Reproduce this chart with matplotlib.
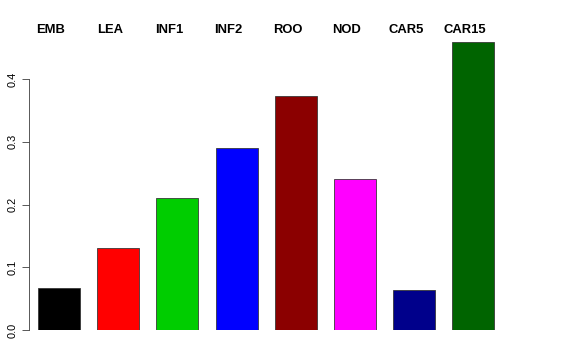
import matplotlib
matplotlib.use('Agg')
import matplotlib.pyplot as plt
import numpy as np

# bar values
categories = ['EMB', 'LEA', 'INF1', 'INF2', 'ROO', 'NOD', 'CAR5', 'CAR15']
values = [0.067, 0.130, 0.210, 0.290, 0.373, 0.240, 0.063, 0.459]
colors = ['#000000', '#FF0000', '#00CD00', '#0000FF', '#8B0000', '#FF00FF', '#00008B', '#006400']
yticks = [0.0, 0.1, 0.2, 0.3, 0.4]

plt.rcParams['font.family'] = ['Liberation Sans', 'DejaVu Sans']

W, H = 576, 360
fig = plt.figure(figsize=(W / 72, H / 72), dpi=72)

# pixel layout of the plot region
px_left, px_right, px_bottom, px_top = 29, 560, 330, 20
unit = 59.2          # pixels per bar slot
first_center = 59    # pixel x of first bar centre
ax = fig.add_axes([px_left / W, (H - px_bottom) / H,
                   (px_right - px_left) / W, (px_bottom - px_top) / H])

x = np.arange(len(categories))
ax.bar(x, values, width=0.71, color=colors, edgecolor='#333333', linewidth=0.8)

ax.set_xlim((px_left - first_center) / unit, (px_right - first_center) / unit)
ax.set_ylim(0, (px_bottom - px_top) / 627.5)

for s in ['top', 'right', 'bottom']:
    ax.spines[s].set_visible(False)
ax.spines['left'].set_bounds(0, 0.4)
ax.spines['left'].set_color('#333333')
ax.set_xticks([])
ax.set_yticks(yticks)
ax.set_yticklabels(['%.1f' % t for t in yticks], rotation=90, va='center', fontsize=11)
ax.tick_params(axis='y', length=7, width=0.8, color='#333333', pad=4)

# category labels above the bars
for xi, name in zip(x, categories):
    ax.text(xi - 0.14, 1 - (30 - px_top) / (px_bottom - px_top) + 0.0, name,
            transform=ax.get_xaxis_transform(), ha='center', va='center',
            fontsize=13, fontweight='bold')

fig.savefig('out.png', dpi=72)
